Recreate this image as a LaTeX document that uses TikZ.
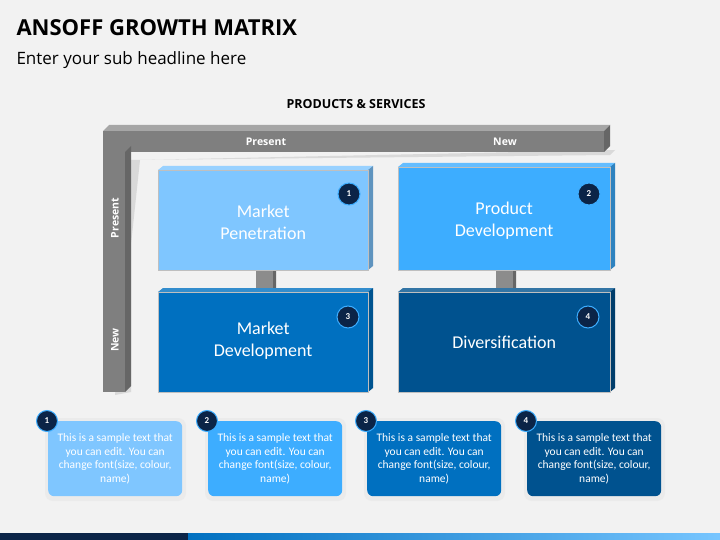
\documentclass[tikz,border=0pt]{standalone}
\usepackage{fontspec}
\setmainfont{Carlito}
\newfontfamily\titlefont{Open Sans}
\usetikzlibrary{positioning,shapes,calc}
\definecolor{bgc}{HTML}{F2F2F2}
\definecolor{cA}{HTML}{7FC6FF}
\definecolor{cB}{HTML}{3DADFF}
\definecolor{cC}{HTML}{0070C0}
\definecolor{cD}{HTML}{00528F}
\definecolor{navy}{HTML}{0B2447}
\definecolor{barc}{HTML}{7F7F7F}

\begin{document}
\begin{tikzpicture}[x=1pt,y=-1pt,
box/.style={draw=black!25, line width=0.3pt, text=white, align=center, inner sep=0pt},
badge/.style={circle, fill=navy, draw=cB, line width=1pt, minimum size=22pt, inner sep=0pt, text=white, font=\fontsize{9}{10}\selectfont\bfseries},
note/.style={rounded corners=6pt, text=white, align=center, font=\fontsize{11.5}{13.5}\selectfont, minimum width=134pt, minimum height=75pt, anchor=north west},
axis/.style={text=white, font=\titlefont\fontsize{10.5}{12}\selectfont\bfseries},
lbl/.style={text=white, align=center, font=\fontsize{18}{22}\selectfont}
]
\fill[bgc] (0,0) rectangle (720,540);
\useasboundingbox (0,0) rectangle (720,540);

% Headline
\node[anchor=west, font=\titlefont\fontsize{22}{24}\selectfont\bfseries] (title) at (13,28) {ANSOFF GROWTH MATRIX};
\node[anchor=west, font=\titlefont\fontsize{17}{20}\selectfont] (sub) at (13,60) {Enter your sub headline here};
\node[font=\titlefont\fontsize{12.5}{14}\selectfont\bfseries] (ps) at (356,104) {PRODUCTS \& SERVICES};

% Frame
\fill[black!15] (115,395) -- (131,392) -- (131,160) -- (610,155) -- (615,150) -- (140,160) -- cycle;
\fill[barc] (103,131) rectangle (604,152);
\fill[barc] (103,131) rectangle (125,392);
\fill[black!35] (103,131) -- (109,125) -- (610,125) -- (604,131) -- cycle;
\fill[black!60] (604,131) -- (610,125) -- (610,146) -- (604,152) -- cycle;
\fill[black!60] (125,152) -- (131,146) -- (131,386) -- (125,392) -- cycle;
\node[axis] (pres) at (266,142) {Present};
\node[axis] (new) at (505,142) {New};
\node[axis, rotate=90] (presl) at (115,218) {Present};
\node[axis, rotate=90] (newl) at (115,340) {New};

% Posts
\foreach \px in {256,496} {
  \fill[black!45] (\px,268) rectangle (\px+17,293);
  \fill[black!60] (\px+17,268) -- (\px+20,266) -- (\px+20,291) -- (\px+17,293) -- cycle;
}

% Matrix boxes
\foreach \bx/\by/\bw/\bh/\col/\nm in {158/170/210/100/cA/mp, 398/167/212/103/cB/pd, 158/292/210/100/cC/md, 398/292/212/100/cD/dv} {
  \fill[\col!80!white] (\bx,\by) -- (\bx+5,\by-4) -- (\bx+\bw+5,\by-4) -- (\bx+\bw,\by) -- cycle;
  \fill[\col!75!black] (\bx+\bw,\by) -- (\bx+\bw+5,\by-4) -- (\bx+\bw+5,\by+\bh-4) -- (\bx+\bw,\by+\bh) -- cycle;
  \node[box, fill=\col, minimum width=\bw pt, minimum height=\bh pt, anchor=north west] (\nm) at (\bx,\by) {};
}
\node[lbl] (mpt) at ($(mp)+(0,2)$) {Market\\Penetration};
\node[lbl] (pdt) at ($(pd)+(0,2)$) {Product\\Development};
\node[lbl] (mdt) at ($(md)+(0,-1)$) {Market\\Development};
\node[lbl] (dvt) at (dv) {Diversification};
\node[badge] (b1) at (349,194) {1};
\node[badge] (b2) at (589,194) {2};
\node[badge] (b3) at (348,317) {3};
\node[badge] (b4) at (588,317) {4};

% Notes
\foreach \nx/\col/\k in {48/cA/1, 208/cB/2, 367/cC/3, 527/cD/4} {
  \fill[black!8, rounded corners=8pt] (\nx-3,418) rectangle (\nx+138,501);
  \node[note, fill=\col] (n\k) at (\nx,421) {This is a sample text that\\you can edit. You can\\change font(size, colour,\\name)};
  \node[badge, minimum size=21pt] (nb\k) at (\nx-1,421) {\k};
}

% Bottom stripe
\fill[navy] (0,533) rectangle (188,540);
\shade[left color=cC, right color=cB!70!white] (188,533) rectangle (720,540);
\end{tikzpicture}
\end{document}
